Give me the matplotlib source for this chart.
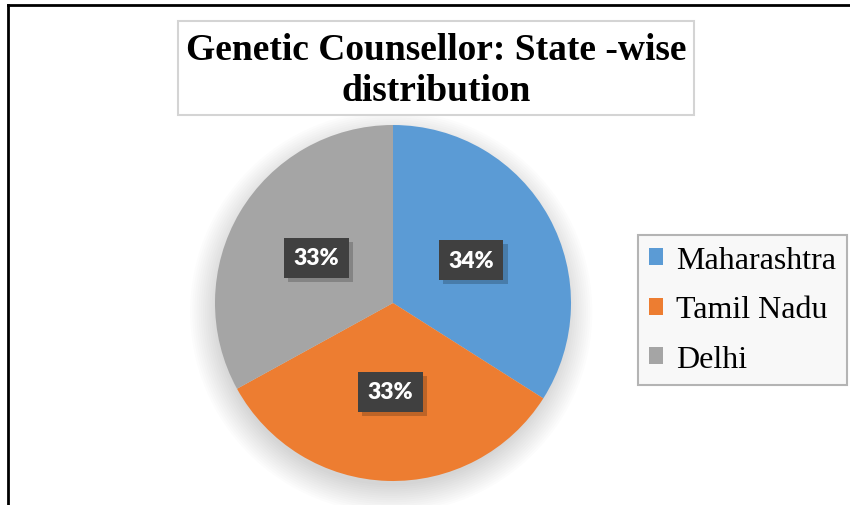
import matplotlib.pyplot as plt
import matplotlib.patheffects as pe
from matplotlib.patches import Rectangle, Circle
from matplotlib.lines import Line2D

states = ["Maharashtra", "Tamil Nadu", "Delhi"]
shares = [34, 33, 33]
colors = ["#5B9BD5", "#ED7D31", "#A5A5A5"]
title = "Genetic Counsellor: State -wise\ndistribution"

W, H = 850, 506
fig = plt.figure(figsize=(W / 100, H / 100), dpi=100)

# pie axes placed so the pie sits at (393, 304) px with radius 178 px
cx, cy, r = 393, 304, 178
span = 1.3
ax = fig.add_axes([(cx - span * r) / W, (H - cy - span * r) / H,
                   2 * span * r / W, 2 * span * r / H])

wedges, texts, autotexts = ax.pie(
    shares, colors=colors, startangle=90, counterclock=False,
    autopct="%d%%", pctdistance=0.5, radius=1.0,
    wedgeprops=dict(linewidth=0),
    textprops=dict(color="white", fontsize=16.5, fontweight="heavy",
                   family="Lato"))

# pie() resets the limits, so fix them afterwards
ax.set_xlim(-span, span)
ax.set_ylim(-span, span)
ax.set_aspect("equal")
ax.axis("off")

# soft shadow under the pie
n = 14
for i in range(n):
    rad = 1.13 - i * 0.012
    ax.add_patch(Circle((-0.01, -0.05), rad, facecolor="black",
                        edgecolor="none", alpha=0.012, zorder=0))

for t in autotexts:
    t.set_bbox(dict(boxstyle="square,pad=0.42", facecolor="#404040",
                    edgecolor="none"))
    t.get_bbox_patch().set_path_effects(
        [pe.SimplePatchShadow(offset=(3, -3), shadow_rgbFace="black",
                              alpha=0.2), pe.Normal()])
    t.set_zorder(4)

# title with its grey frame
fig.add_artist(Rectangle((178 / W, 1 - 116 / H), (694 - 178) / W, 94 / H,
                         transform=fig.transFigure, facecolor="white",
                         edgecolor="#D4D4D4", linewidth=1.5, zorder=1))
fig.text(436 / W, 1 - 71 / H, title, ha="center", va="center",
         fontsize=27, fontweight="bold", family="Liberation Serif",
         linespacing=1.25, zorder=2)

leg = fig.legend(wedges, states, loc="center",
                 bbox_to_anchor=(742.5 / W, 1 - 311 / H),
                 prop=dict(family="Liberation Serif", size=23),
                 frameon=True, fancybox=False, edgecolor="#B4B4B4",
                 facecolor="#F8F8F8", framealpha=1,
                 handlelength=0.45, handleheight=0.45, handletextpad=0.4,
                 labelspacing=0.65, borderpad=0.35)
leg.get_frame().set_linewidth(1.5)

# black border on the left and top
fig.add_artist(Line2D([8 / W, 8 / W], [0, 1 - 6 / H], color="black",
                      linewidth=2, transform=fig.transFigure))
fig.add_artist(Line2D([8 / W, 1], [1 - 6 / H, 1 - 6 / H], color="black",
                      linewidth=2, transform=fig.transFigure))

fig.savefig("out.png", dpi=100)
